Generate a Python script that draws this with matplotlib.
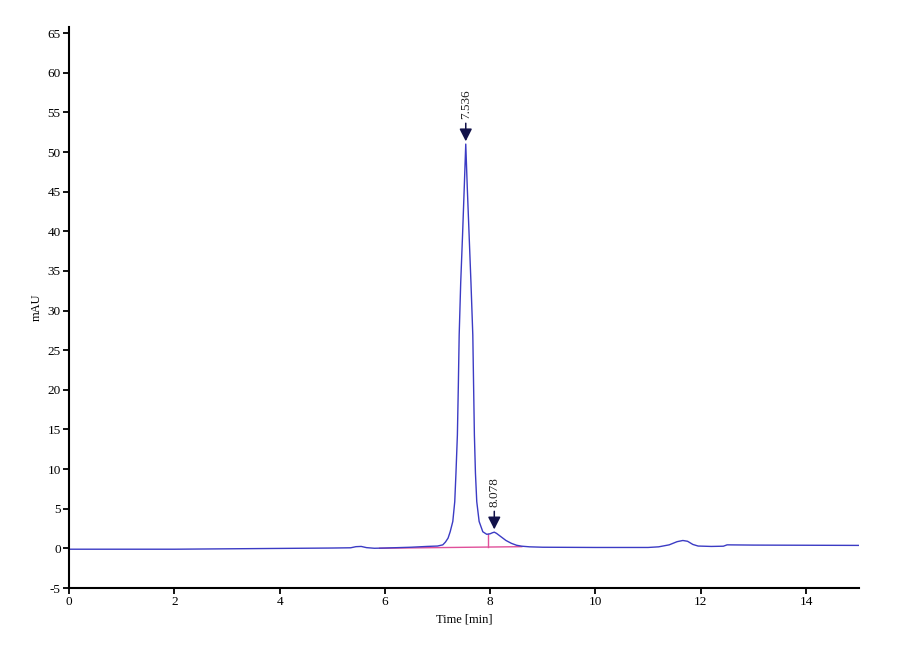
import numpy as np
import matplotlib.pyplot as plt

plt.rcParams['axes.unicode_minus'] = False

# chromatogram trace (time in min, signal in mAU)
time_min = [0.0, 1.0, 2.0, 3.0, 4.0, 5.0, 5.35, 5.45, 5.55, 5.65, 5.8, 6.0,
            6.5, 6.8, 7.0, 7.1, 7.15, 7.2, 7.24, 7.29, 7.327, 7.35, 7.377,
            7.395, 7.411, 7.44, 7.475, 7.51, 7.536, 7.565, 7.6, 7.635, 7.67,
            7.685, 7.7, 7.72, 7.745, 7.79, 7.86, 7.935, 8.0, 8.04, 8.078,
            8.12, 8.2, 8.3, 8.4, 8.5, 8.6, 8.75, 9.0, 10.0, 11.0, 11.2, 11.4,
            11.55, 11.66, 11.75, 11.85, 11.95, 12.2, 12.43, 12.5, 13.0, 14.0, 15.0]
signal_mau = [-0.1, -0.1, -0.1, -0.05, 0.0, 0.05, 0.08, 0.22, 0.25, 0.1, 0.02, 0.05,
              0.15, 0.25, 0.3, 0.45, 0.8, 1.3, 2.1, 3.4, 5.9, 9.5, 14.3,
              20.5, 26.9, 33.5, 39.5, 46.0, 51.0, 45.5, 39.5, 33.5, 26.9,
              20.5, 14.3, 9.5, 5.9, 3.4, 2.1, 1.78, 1.85, 1.97, 2.05,
              1.9, 1.5, 1.0, 0.65, 0.4, 0.28, 0.2, 0.15, 0.12, 0.12, 0.2, 0.45,
              0.85, 1.0, 0.9, 0.5, 0.3, 0.25, 0.28, 0.45, 0.42, 0.4, 0.38]

# integration baseline and peak split line
base_t = [5.9, 8.6]
base_v = [0.02, 0.22]
split_t = [7.95, 7.95]
split_v = [0.17, 1.78]

peak_rt = [7.536, 8.078]
peak_h = [51.0, 2.05]
peak_labels = ['7.536', '8.078']

serif = ['Liberation Serif', 'DejaVu Serif']

fig = plt.figure(figsize=(9, 6.6), dpi=100)
ax = fig.add_axes([0.0767, 0.109, 0.8774, 0.85])

ax.plot(base_t, base_v, color='#e0509a', lw=1.0)
ax.plot(split_t, split_v, color='#e0509a', lw=1.0)
ax.plot(time_min, signal_mau, color='#3b3bc4', lw=1.0)

for t, h, lab in zip(peak_rt, peak_h, peak_labels):
    ax.annotate('', xy=(t, h), xytext=(0, 17), textcoords='offset points',
                arrowprops=dict(arrowstyle='-|>,head_length=0.75,head_width=0.38',
                                color='#12124a', lw=1.1))
    ax.annotate(lab, xy=(t, h), xytext=(0, 18), textcoords='offset points',
                rotation=90, ha='center', va='bottom', fontsize=9.5,
                family=serif, color='#222222')

ax.set_xlim(0, 15)
ax.set_ylim(-5, 65.76)
ax.set_xticks(np.arange(0, 15, 2))
ax.set_yticks(np.arange(-5, 66, 5))

for side in ['top', 'right']:
    ax.spines[side].set_visible(False)
for side in ['left', 'bottom']:
    ax.spines[side].set_linewidth(1.5)
ax.tick_params(direction='out', length=4, width=1.3, labelsize=9.5, pad=2)
for lbl in ax.get_xticklabels() + ax.get_yticklabels():
    lbl.set_family(serif)

ax.set_xlabel('Time [min]', family=serif, fontsize=9, labelpad=4)
ax.set_ylabel('mAU', family=serif, fontsize=9, labelpad=3)

fig.savefig('out.png', dpi=100, facecolor='white')
